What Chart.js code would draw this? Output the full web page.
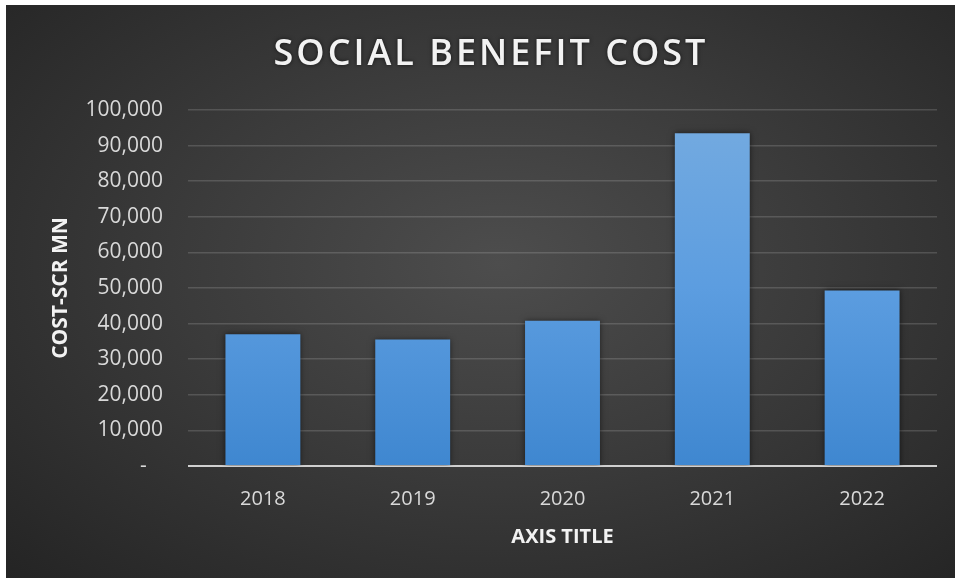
<!DOCTYPE html>
<html>
<head>
<meta charset="utf-8">
<script src="https://cdn.jsdelivr.net/npm/chart.js@4"></script>
<style>
    body { margin: 0; background: #fff; }
    #wrap {
        position: absolute; left: 6px; top: 5px; width: 949px; height: 573px;
        background: radial-gradient(ellipse at 52% 45%, #4d4d4d 0%, #3b3b3b 45%, #242424 100%);
    }
</style>
</head>
<body>
<div id="wrap"><canvas id="chart" width="949" height="573"></canvas></div>
<script>
const years = ["2018", "2019", "2020", "2021", "2022"];
const costs = [37000, 35500, 40800, 93500, 49300];
const titleText = "SOCIAL BENEFIT COST";

document.addEventListener("DOMContentLoaded", () => {
    // Title drawn by hand so we can letter-space it like the original
    const titlePlugin = {
        id: "spacedTitle",
        afterDraw(chart) {
            const ctx = chart.ctx;
            ctx.save();
            ctx.font = "600 36px 'Open Sans'";
            ctx.letterSpacing = "3px";
            ctx.fillStyle = "#f2f2f2";
            ctx.textAlign = "center";
            ctx.textBaseline = "middle";
            ctx.shadowColor = "rgba(0,0,0,0.6)";
            ctx.shadowBlur = 4;
            ctx.fillText(titleText, 485, 50);
            ctx.restore();
        }
    };

    // Soft dark shadow round the bars
    const barShadow = {
        id: "barShadow",
        beforeDatasetsDraw(chart) {
            chart.ctx.save();
            chart.ctx.shadowColor = "rgba(0,0,0,0.55)";
            chart.ctx.shadowBlur = 6;
        },
        afterDatasetsDraw(chart) {
            chart.ctx.restore();
        }
    };

    const barFill = (context) => {
        const area = context.chart.chartArea;
        if (!area) return "#5b9bd5";
        const g = context.chart.ctx.createLinearGradient(0, area.top, 0, area.bottom);
        g.addColorStop(0, "#75abe0");
        g.addColorStop(0.5, "#5c9de0");
        g.addColorStop(1, "#3f87d0");
        return g;
    };

    new Chart(document.getElementById("chart").getContext("2d"), {
        type: "bar",
        data: {
            labels: years,
            datasets: [{
                label: "Cost",
                data: costs,
                backgroundColor: barFill,
                barPercentage: 0.5,
                categoryPercentage: 1
            }]
        },
        options: {
            responsive: false,
            animation: false,
            layout: { padding: { left: 34, right: 18, top: 105, bottom: 25 } },
            plugins: {
                legend: { display: false },
                tooltip: { enabled: false },
                title: { display: false }
            },
            scales: {
                x: {
                    grid: { display: false },
                    border: { display: false },
                    ticks: {
                        color: "#d9d9d9",
                        font: { family: "'Open Sans'", size: 20 },
                        padding: 13
                    },
                    title: {
                        display: true,
                        text: "AXIS TITLE",
                        color: "#f2f2f2",
                        font: { family: "'Open Sans'", size: 20, weight: "bold" },
                        padding: 4
                    },
                    afterFit(scale) { scale.height = 87; }
                },
                y: {
                    min: 0,
                    max: 100000,
                    ticks: {
                        stepSize: 10000,
                        color: "#d9d9d9",
                        font: { family: "'Open Sans'", size: 21 },
                        padding: 25,
                        callback: (v) => v === 0 ? "-   " : v.toLocaleString("en-US")
                    },
                    grid: {
                        drawTicks: false,
                        color: (c) => c.tick && c.tick.value === 0 ? "#d0d0d0" : "rgba(255,255,255,0.15)",
                        lineWidth: (c) => c.tick && c.tick.value === 0 ? 2 : 1.5
                    },
                    border: { display: false },
                    title: {
                        display: true,
                        text: "COST-SCR MN",
                        color: "#f2f2f2",
                        font: { family: "'Open Sans'", size: 21, weight: "bold" },
                        padding: { top: 8, bottom: 4 }
                    },
                    afterFit(scale) { scale.width = 148; }
                }
            }
        },
        plugins: [titlePlugin, barShadow]
    });
});
</script>
</body>
</html>
